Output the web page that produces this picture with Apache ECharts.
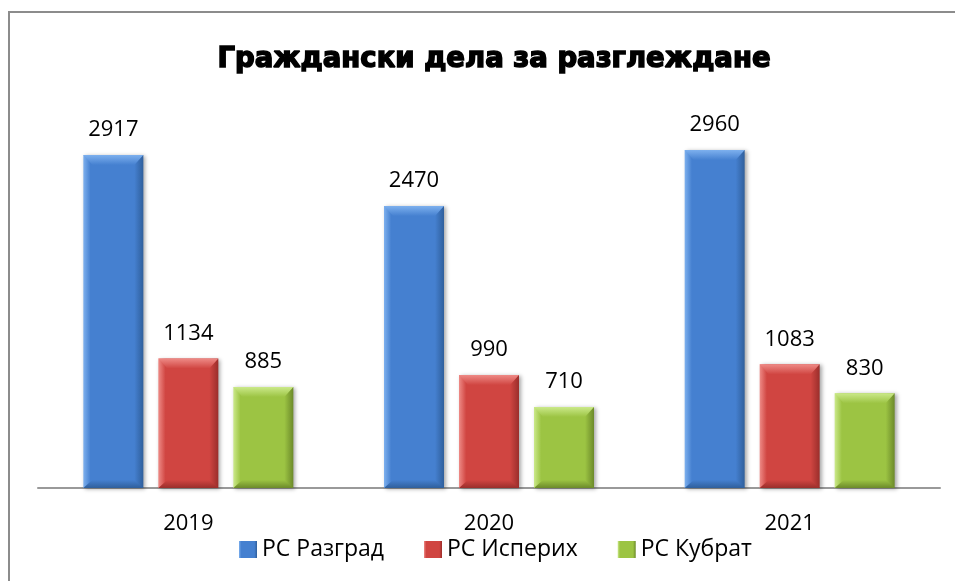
<!DOCTYPE html>
<html>
<head>
<meta charset="utf-8">
<script src="https://cdn.jsdelivr.net/npm/echarts@6/dist/echarts.min.js"></script>
<style>
  html, body { margin: 0; padding: 0; background: #fff; }
  #chart { width: 955px; height: 581px; }
</style>
</head>
<body>
<div id="chart"></div>
<script>
const years = ["2019", "2020", "2021"];
const seriesNames = ["РС Разград", "РС Исперих", "РС Кубрат"];
const razgrad = [2917, 2470, 2960];
const isperih = [1134, 990, 1083];
const kubrat = [885, 710, 830];

const chart = echarts.init(document.getElementById("chart"));

// base / light / dark tone per series
const tones = [
  { base: "#4580d0", light: "#7db0ee", dark: "#2f5f9c" },
  { base: "#d04541", light: "#ee8a86", dark: "#9a2e2b" },
  { base: "#9cc443", light: "#cbe98a", dark: "#6c8a2a" },
];

function sideGradient(t) {
  return new echarts.graphic.LinearGradient(0, 0, 1, 0, [
    { offset: 0, color: t.light },
    { offset: 0.12, color: t.base },
    { offset: 0.85, color: t.base },
    { offset: 1, color: t.dark },
  ]);
}

const values = [razgrad, isperih, kubrat];
const offsets = [-75, 0, 75];
const series = [];

values.forEach((data, i) => {
  series.push({
    name: seriesNames[i],
    type: "bar",
    data: data,
    barWidth: 60,
    barGap: "25%",
    itemStyle: {
      color: sideGradient(tones[i]),
      shadowColor: "rgba(0,0,0,0.35)",
      shadowBlur: 4,
      shadowOffsetX: 2,
      shadowOffsetY: 1,
    },
    label: {
      show: true,
      position: "top",
      distance: 14,
      color: "#000",
      fontSize: 22,
      fontFamily: "Open Sans",
    },
    z: 2,
  });
});

// top and bottom bevels
values.forEach((data, i) => {
  series.push({
    name: "top" + i,
    type: "pictorialBar",
    data: data,
    symbol: "path://M0,0 L60,0 L51,10 L9,10 Z",
    symbolSize: [60, 10],
    symbolPosition: "end",
    symbolOffset: [offsets[i], 0],
    itemStyle: {
      color: new echarts.graphic.LinearGradient(0, 0, 0, 1, [
        { offset: 0, color: tones[i].light },
        { offset: 1, color: tones[i].base },
      ]),
    },
    silent: true,
    z: 3,
  });
  series.push({
    name: "bottom" + i,
    type: "pictorialBar",
    data: data,
    symbol: "path://M9,0 L51,0 L60,8 L0,8 Z",
    symbolSize: [60, 8],
    symbolPosition: "start",
    symbolOffset: [offsets[i], 0],
    itemStyle: {
      color: new echarts.graphic.LinearGradient(0, 0, 0, 1, [
        { offset: 0, color: tones[i].base },
        { offset: 1, color: tones[i].dark },
      ]),
    },
    silent: true,
    z: 3,
  });
});

const option = {
  backgroundColor: "#fff",
  animation: false,
  title: {
    text: "Граждански дела за разглеждане",
    left: 489,
    textAlign: "center",
    top: 41,
    textStyle: {
      fontFamily: "DejaVu Sans",
      fontWeight: "bold",
      fontSize: 27.5,
      color: "#000",
      textBorderColor: "#000",
      textBorderWidth: 1.5,
    },
  },
  graphic: [
    {
      type: "rect",
      shape: { x: 9, y: 12, width: 1000, height: 1000 },
      style: { fill: "none", stroke: "#8c8c8c", lineWidth: 2 },
      silent: true,
    },
  ],
  legend: {
    data: seriesNames,
    left: 234,
    top: 533,
    itemWidth: 18,
    itemHeight: 17,
    itemGap: 40,
    icon: "rect",
    textStyle: { fontFamily: "Open Sans", fontSize: 23, color: "#000" },
  },
  grid: { left: 38, right: 15, top: 145.5, bottom: 93 },
  xAxis: {
    type: "category",
    data: years,
    axisTick: { show: false },
    axisLine: { lineStyle: { color: "#999", width: 2 } },
    axisLabel: {
      color: "#000",
      fontSize: 22,
      fontFamily: "Open Sans",
      margin: 25,
    },
  },
  yAxis: {
    type: "value",
    min: 0,
    max: 3000,
    show: false,
    splitLine: { show: false },
  },
  series: series,
};

chart.setOption(option);
</script>
</body>
</html>
